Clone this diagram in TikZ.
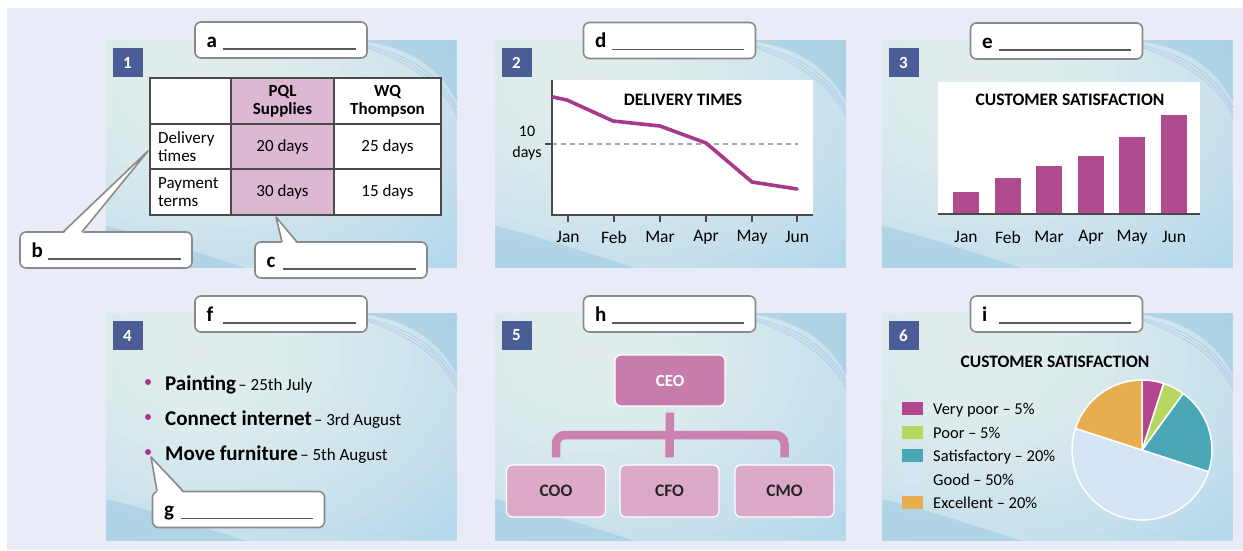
\documentclass[tikz,border=0pt]{standalone}
\usepackage{fontspec}
\setmainfont{Carlito}
\usetikzlibrary{calc}
\definecolor{pagebg}{HTML}{E9ECF6}
\definecolor{slideblue}{HTML}{B3D9EA}
\definecolor{wavedark}{HTML}{93C6E0}
\definecolor{numblue}{HTML}{4A5D96}
\definecolor{boxgray}{HTML}{8A8A8A}
\definecolor{ulgray}{HTML}{5A5A5A}
\definecolor{gridgray}{HTML}{4A4A4A}
\definecolor{colpink}{HTML}{DDB8D3}
\definecolor{plum}{HTML}{A6398C}
\definecolor{barplum}{HTML}{B04B8F}
\definecolor{ceopink}{HTML}{C77CAC}
\definecolor{subpink}{HTML}{DCA9C9}
\definecolor{branchpink}{HTML}{CC82B0}
\definecolor{pvpoor}{HTML}{B3468F}
\definecolor{ppoor}{HTML}{B6D760}
\definecolor{psat}{HTML}{4AA7B6}
\definecolor{pgood}{HTML}{D5E5F6}
\definecolor{pexc}{HTML}{E8AD4F}
\newcommand\sz[1]{\fontsize{#1}{#1}\selectfont}
% one slide: light blue card with a soft glow and two waves
\newcommand\slidebg[2]{%
  \begin{scope}[shift={(#1,#2)}]
    \fill[slideblue] (0,0) rectangle (351,228);
    \begin{scope}
      \clip (0,0) rectangle (351,228);
      \foreach \r in {10,20,...,250}
        \fill[white,opacity=0.05] (95,40) ellipse [x radius={1.4*\r}, y radius=\r];
      \fill[wavedark,opacity=0.5] (240,0) .. controls (290,2) and (330,20) .. (351,62) -- (351,0) -- cycle;
      \foreach \d in {0,4,8}
        \draw[wavedark!70!blue,opacity=0.35,line width=0.5] (228+\d,0) .. controls (285,6+\d) and (330,26+\d) .. (351,68+\d);
      \fill[wavedark,opacity=0.45] (0,186) .. controls (40,195) and (90,212) .. (140,228) -- (0,228) -- cycle;
    \end{scope}
  \end{scope}}
% label box with a letter and a blank line to write on
\newcommand\labelbox[4]{%
  \node[labelbox] (#1) at (#2,#3) {};
  \node[anchor=base west,font=\sz{21}\bfseries] (#1-l) at ($(#1.west)+(9,7)$) {#4};
  \draw[uline] ($(#1.west)+(29,9)$) -- ($(#1.east)+(-12,9)$);}
\begin{document}
\begin{tikzpicture}[x=1pt,y=-1pt,
  labelbox/.style={draw=boxgray,line width=1.6,fill=white,rounded corners=6,
    minimum width=172,minimum height=36,inner sep=0},
  uline/.style={ulgray,line width=1.5},
  tail/.style={boxgray,line width=1.6,line join=round},
  numbox/.style={fill=numblue,text=white,font=\sz{17}\bfseries,
    minimum width=30,minimum height=29,inner sep=0},
  cell/.style={font=\fontsize{17}{18}\selectfont,align=center,inner sep=0},
  axis/.style={gridgray,line width=2},
  month/.style={font=\sz{17.5},inner sep=0},
  charttitle/.style={font=\sz{17.5}\bfseries,inner sep=0},
  orgtop/.style={fill=ceopink,draw=white,line width=1.2,rounded corners=6,
    minimum width=110,minimum height=51,text=white,font=\sz{17}\bfseries},
  orgsub/.style={fill=subpink,draw=white,line width=1.2,rounded corners=6,
    minimum width=99,minimum height=52,text=black!85,font=\sz{17.5}\bfseries},
  branch/.style={branchpink,line width=8.5,rounded corners=9},
  legendtext/.style={anchor=base west,font=\sz{16.5},inner sep=0},
  slice/.style={draw=white,line width=1.5,line join=round}]
\useasboundingbox (0,0) rectangle (1243,550);
\fill[white] (0,0) rectangle (1243,550);
\fill[pagebg] (7,8) rectangle (1243,550);

% six slides
\slidebg{106}{40}
\slidebg{495}{40}
\slidebg{882}{40}
\slidebg{106}{313}
\slidebg{495}{313}
\slidebg{882}{313}

\node[numbox] (n1) at (127.5,62.5) {1};
\node[numbox] (n2) at (516.5,62.5) {2};
\node[numbox] (n3) at (903.5,62.5) {3};
\node[numbox] (n4) at (127.5,335.5) {4};
\node[numbox] (n5) at (516.5,335.5) {5};
\node[numbox] (n6) at (903.5,335.5) {6};

% ---- 1: supplier table
\fill[white] (150,78) rectangle (441,215);
\fill[colpink] (231,78) rectangle (334,215);
\draw[gridgray,line width=2] (150,78) rectangle (441,215)
  (231,78) -- (231,215) (334,78) -- (334,215)
  (150,124) -- (441,124) (150,169) -- (441,169);
\node[cell,font=\fontsize{17}{18}\selectfont\bfseries] (h1) at (282.5,101) {PQL\\Supplies};
\node[cell,font=\fontsize{17}{18}\selectfont\bfseries] (h2) at (387.5,101) {WQ\\Thompson};
\node[cell,anchor=west,align=left] (r1) at (158,146.5) {Delivery\\times};
\node[cell,anchor=west,align=left] (r2) at (158,192) {Payment\\terms};
\node[cell] (c11) at (282.5,146.5) {20 days};
\node[cell] (c12) at (387.5,146.5) {25 days};
\node[cell] (c21) at (282.5,192) {30 days};
\node[cell] (c22) at (387.5,192) {15 days};

% ---- 2: line chart
\fill[white] (552,80) rectangle (813,215);
\draw[gray!70,line width=1.2,dash pattern=on 5pt off 4pt] (552,144) -- (798,144);
\draw[axis] (545,144) -- (552,144);
\draw[axis] (552,80) -- (552,215) -- (813,215);
\foreach \x/\m in {568/Jan,614/Feb,660/Mar,706/Apr,752/May,797/Jun}{
  \draw[axis,line width=1.6] (\x,215) -- (\x,222);
  \node[month] (lm\m) at (\x,237) {\m};}
\node[font=\fontsize{16}{21}\selectfont,align=center,inner sep=0] (tenlbl) at (527,143) {10\\days};
\node[charttitle] (t2) at (683,100) {DELIVERY TIMES};
\draw[plum,line width=3.6,line join=round,line cap=round]
  (553,97) -- (567,100) -- (613,121) -- (660,126) -- (706,143) -- (752,182) -- (797,189);

% ---- 3: bar chart
\fill[white] (938,82) rectangle (1200,215);
\foreach \x/\t/\m in {966/192/Jan,1008/178/Feb,1049/166/Mar,1091/156/Apr,1132/137/May,1174/115/Jun}{
  \fill[barplum] (\x-13,\t) rectangle (\x+13,214);
  \node[month] (bm\m) at (\x,237) {\m};}
\draw[axis] (938,214) -- (1200,214);
\node[charttitle] (t3) at (1070,100) {CUSTOMER SATISFACTION};

% ---- 4: task list
\foreach \y/\n in {390/1,425/2,460/3}
  \fill[plum] (148,\y-8) circle (3);
\node[anchor=base west,inner sep=0] (li1) at (165,390) {{\sz{21}\bfseries Painting} {\sz{17}– 25th July}};
\node[anchor=base west,inner sep=0] (li2) at (165,425) {{\sz{21}\bfseries Connect internet} {\sz{17}– 3rd August}};
\node[anchor=base west,inner sep=0] (li3) at (165,460) {{\sz{21}\bfseries Move furniture} {\sz{17}– 5th August}};

% ---- 5: organisation chart
\node[orgtop] (ceo) at (670,380.5) {CEO};
\node[orgsub] (coo) at (556,491) {COO};
\node[orgsub] (cfo) at (669.5,491) {CFO};
\node[orgsub] (cmo) at (784.5,491) {CMO};
\coordinate (fork) at (670,435);
\draw[branch] ([yshift=7]coo.north) |- (fork) -| ([yshift=7]cmo.north);
\draw[branchpink,line width=8.5] ([yshift=-6]ceo.south) -- ([yshift=7]cfo.north);

% ---- 6: pie chart with legend
\node[charttitle] (t6) at (1055,362) {CUSTOMER SATISFACTION};
\foreach \y/\c/\t in {408/pvpoor/{Very poor – 5\%},432/ppoor/{Poor – 5\%},455/psat/{Satisfactory – 20\%},479/pgood/{Good – 50\%},502/pexc/{Excellent – 20\%}}{
  \fill[\c] (902,\y-6.5) rectangle (923,\y+6.5);
  \node[legendtext] at (933,\y+6) {\t};}
\begin{scope}[shift={(1142,450)},yscale=-1]
  \filldraw[slice,fill=pgood] (0,0) -- (162:70) arc (162:342:70) -- cycle;
  \filldraw[slice,fill=psat] (0,0) -- (-18:70) arc (-18:54:70) -- cycle;
  \filldraw[slice,fill=ppoor] (0,0) -- (54:70) arc (54:72:70) -- cycle;
  \filldraw[slice,fill=pvpoor] (0,0) -- (72:70) arc (72:90:70) -- cycle;
  \filldraw[slice,fill=pexc] (0,0) -- (90:70) arc (90:162:70) -- cycle;
\end{scope}

% ---- label boxes
\labelbox{la}{281}{40}{a}
\labelbox{ld}{669.5}{40.5}{d}
\labelbox{le}{1056.5}{41}{e}
\labelbox{lf}{281}{314}{f}
\labelbox{lh}{669.5}{314}{h}
\labelbox{li}{1056.5}{314}{i}
\labelbox{lb}{106}{250}{b}
\labelbox{lc}{341}{260}{c}
\labelbox{lg}{238.5}{509.5}{g}

% speech-bubble tails
\coordinate (tipb) at (148,151);
\coordinate (tipc) at (276,217);
\coordinate (tipg) at (151,457);
\fill[white] (63,234) -- (tipb) -- (82,234) -- cycle;
\draw[tail] (63,232) -- (tipb) -- (82,232);
\fill[white] (282,244) -- (tipc) -- (297,244) -- cycle;
\draw[tail] (282,242) -- (tipc) -- (297,242);
\fill[white] (157,493) -- (tipg) -- (183,493) -- cycle;
\draw[tail] (157,491) -- (tipg) -- (183,491);
\end{tikzpicture}
\end{document}
